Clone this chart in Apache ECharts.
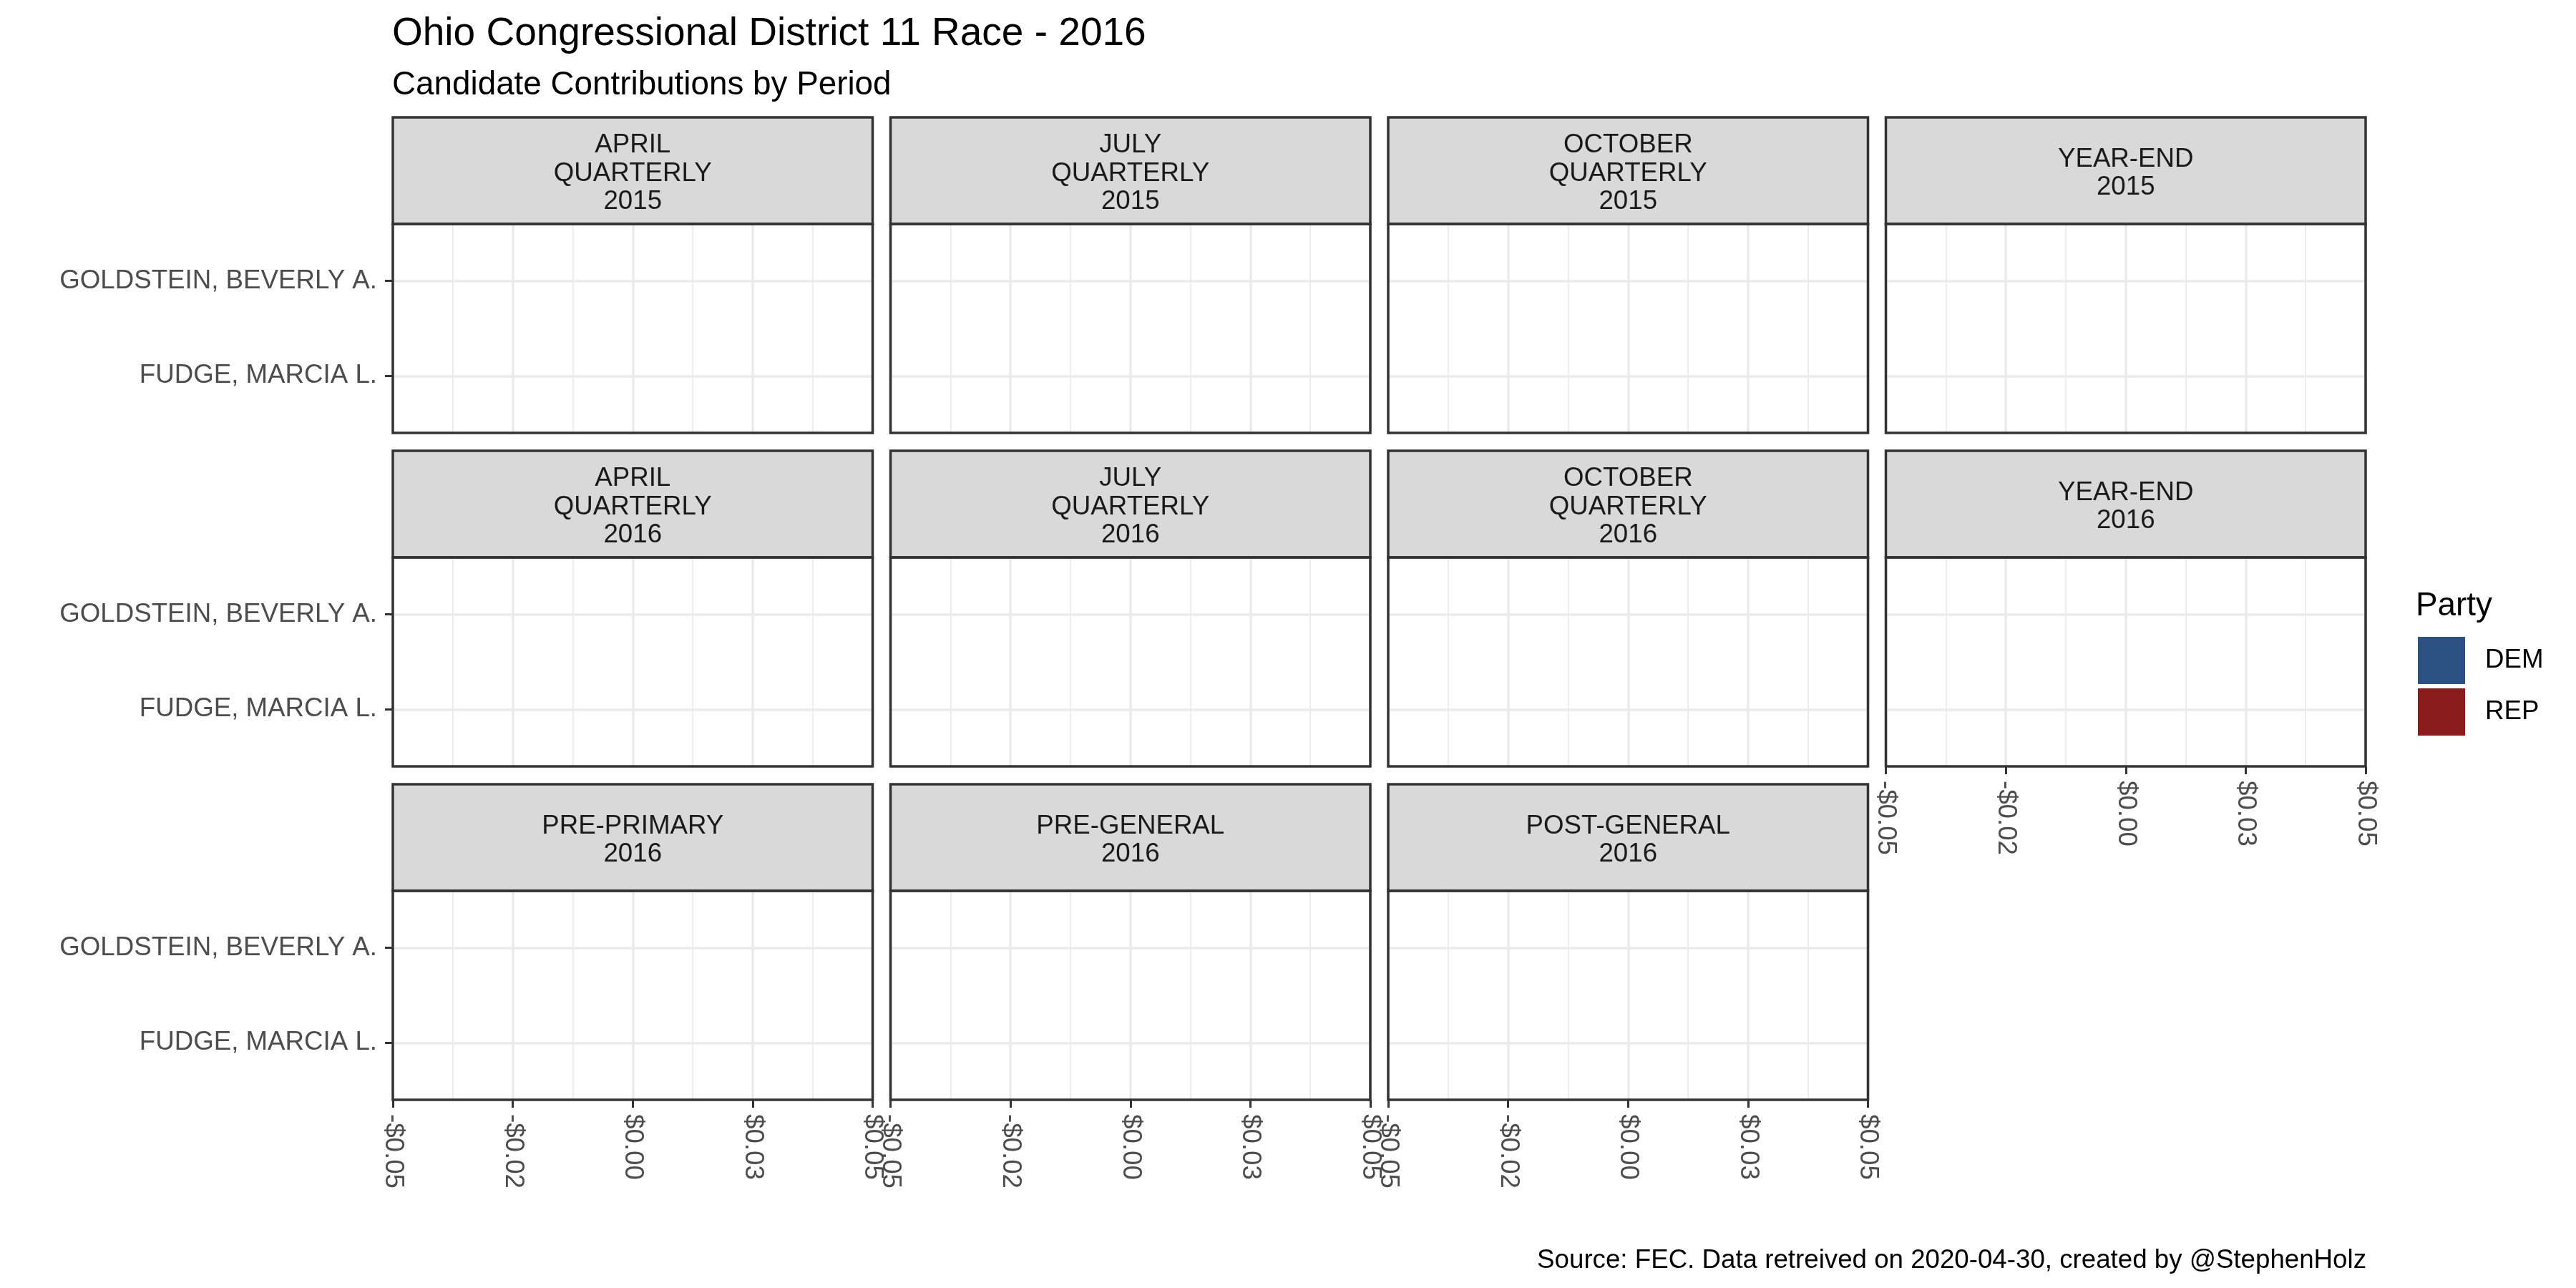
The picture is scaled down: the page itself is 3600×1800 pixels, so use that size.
<!DOCTYPE html>
<html><head><meta charset="utf-8">
<script src="https://cdn.jsdelivr.net/npm/echarts@6/dist/echarts.min.js"></script>
<style>html,body{margin:0;padding:0;background:#fff}#c{width:3600px;height:1800px}</style>
</head><body><div id="c"></div>
<script>
// ---- data ----
const periods = [
  "APRIL\nQUARTERLY\n2015", "JULY\nQUARTERLY\n2015", "OCTOBER\nQUARTERLY\n2015", "YEAR-END\n2015",
  "APRIL\nQUARTERLY\n2016", "JULY\nQUARTERLY\n2016", "OCTOBER\nQUARTERLY\n2016", "YEAR-END\n2016",
  "PRE-PRIMARY\n2016", "PRE-GENERAL\n2016", "POST-GENERAL\n2016"
];
const candidates = ["FUDGE, MARCIA L.", "GOLDSTEIN, BEVERLY A."]; // bottom to top
const candidateParty = ["DEM", "REP"];
const parties = ["DEM", "REP"];
const partyColors = ["#2D5082", "#8B1C1E"];
const fudgeContrib = [0, 0, 0, 0, 0, 0, 0, 0, 0, 0, 0];
const goldsteinContrib = [0, 0, 0, 0, 0, 0, 0, 0, 0, 0, 0];
const xTickValues = [-0.05, -0.025, 0, 0.025, 0.05];
const xTickLabels = ["-$0.05", "-$0.02", "$0.00", "$0.03", "$0.05"];
const titleText = "Ohio Congressional District 11 Race - 2016";
const subtitleText = "Candidate Contributions by Period";
const captionText = "Source: FEC. Data retreived on 2020-04-30, created by @StephenHolz";
const legendTitle = "Party";

// ---- layout ----
const FONT = '"Liberation Sans", Arial, sans-serif';
const contrib = [fudgeContrib, goldsteinContrib];
const xMin = xTickValues[0], xMax = xTickValues[xTickValues.length - 1], xInt = 0.025;
function fmtX(v) {
  let best = 0;
  xTickValues.forEach((t, i) => { if (Math.abs(t - v) < Math.abs(xTickValues[best] - v)) best = i; });
  return xTickLabels[best];
}
const grids = [], xAxes = [], yAxes = [], series = [], graphics = [];
const LEFT0 = 549, PITCH_X = 695.5, PW = 670.5;
const TOP0 = 164, PITCH_Y = 466, SH = 149, PH = 292;
const BORDER = '#333333', GRID = '#EBEBEB';

periods.forEach((p, i) => {
  const row = Math.floor(i / 4), col = i % 4;
  const L = LEFT0 + col * PITCH_X;
  const ST = TOP0 + row * PITCH_Y, PT = ST + SH;
  const showX = (row === 2) || (row === 1 && col === 3);
  const showY = col === 0;
  const a = grids.length;
  grids.push({ left: L, top: PT, width: PW, height: PH, show: true, backgroundColor: '#fff', borderWidth: 0, containLabel: false });
  xAxes.push({
    gridIndex: a, type: 'value', min: xMin, max: xMax, interval: xInt, position: 'bottom',
    axisLine: { show: false, onZero: false },
    axisTick: { show: showX, length: 11, lineStyle: { color: BORDER, width: 3 } },
    axisLabel: { show: showX, rotate: -90, margin: 20, fontSize: 36.7, color: '#4D4D4D', fontFamily: FONT, formatter: fmtX },
    splitLine: { show: true, lineStyle: { color: GRID, width: 3.5 } },
    minorTick: { show: false, splitNumber: 2 },
    minorSplitLine: { show: true, lineStyle: { color: GRID, width: 1.8 } }
  });
  yAxes.push({ gridIndex: a, type: 'value', show: false, axisLine: { onZero: false }, splitLine: { show: false } });
  const b = grids.length;
  grids.push({ left: L, top: PT + PH * 0.6 / 2.2, width: PW, height: PH / 2.2, show: false, containLabel: false });
  xAxes.push({ gridIndex: b, type: 'value', min: xMin, max: xMax, show: false, axisLine: { onZero: false }, splitLine: { show: false } });
  yAxes.push({
    gridIndex: b, type: 'category', data: candidates, boundaryGap: false, position: 'left',
    axisLine: { show: false, onZero: false },
    axisTick: { show: showY, length: 11, interval: 0, lineStyle: { color: BORDER, width: 3 } },
    axisLabel: { show: showY, interval: 0, margin: 22, fontSize: 36.7, color: '#4D4D4D', fontFamily: FONT, padding: [4, 0, 0, 0] },
    splitLine: { show: true, interval: 0, lineStyle: { color: GRID, width: 3.5 } }
  });
  parties.forEach((party, k) => {
    series.push({
      type: 'bar', name: party, xAxisIndex: b, yAxisIndex: b, stack: 's' + i,
      itemStyle: { color: partyColors[k] },
      data: candidates.map((c, ci) => candidateParty[ci] === party ? contrib[ci][i] : '-')
    });
  });
  graphics.push({ type: 'rect', z: 5, shape: { x: L, y: ST, width: PW, height: SH }, style: { fill: '#D9D9D9', stroke: BORDER, lineWidth: 3.5 } });
  graphics.push({ type: 'text', z: 6, x: L + PW / 2, y: ST + SH / 2 + 4, style: { text: p, fontSize: 36.7, fontFamily: FONT, fill: '#1A1A1A', lineHeight: 39.3, align: 'center', textAlign: 'center', verticalAlign: 'middle', textVerticalAlign: 'middle' } });
  graphics.push({ type: 'rect', z: 10, shape: { x: L, y: PT, width: PW, height: PH }, style: { fill: 'none', stroke: BORDER, lineWidth: 3.5 } });
});

graphics.push({ type: 'text', z: 6, x: 548, y: 48, style: { text: titleText, fontSize: 55, fontFamily: FONT, fill: '#000', align: 'left', textAlign: 'left', verticalAlign: 'middle', textVerticalAlign: 'middle' } });
graphics.push({ type: 'text', z: 6, x: 548, y: 119, style: { text: subtitleText, fontSize: 45.8, fontFamily: FONT, fill: '#000', align: 'left', textAlign: 'left', verticalAlign: 'middle', textVerticalAlign: 'middle' } });
graphics.push({ type: 'text', z: 6, x: 3307, y: 1762, style: { text: captionText, fontSize: 36.7, fontFamily: FONT, fill: '#000', align: 'right', textAlign: 'right', verticalAlign: 'middle', textVerticalAlign: 'middle' } });
graphics.push({ type: 'text', z: 6, x: 3376, y: 847, style: { text: legendTitle, fontSize: 45.8, fontFamily: FONT, fill: '#000', align: 'left', textAlign: 'left', verticalAlign: 'middle', textVerticalAlign: 'middle' } });

const chart = echarts.init(document.getElementById('c'), null, { renderer: 'canvas' });
chart.setOption({
  animation: false,
  backgroundColor: '#fff',
  grid: grids, xAxis: xAxes, yAxis: yAxes, series: series,
  legend: {
    data: parties.map(n => ({ name: n })), orient: 'vertical', left: 3379, top: 890,
    itemWidth: 66, itemHeight: 66, itemGap: 6, icon: 'rect', padding: 0, selectedMode: false,
    textStyle: { fontSize: 36.7, color: '#000', fontFamily: FONT, padding: [6, 0, 0, 23] }
  },
  graphic: { elements: graphics }
});
</script></body></html>
